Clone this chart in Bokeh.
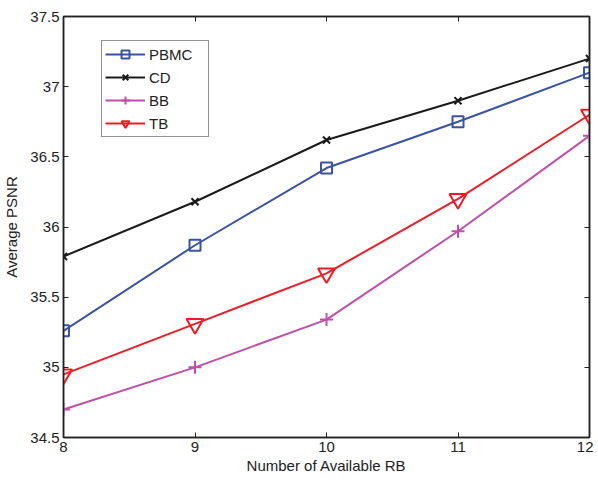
from bokeh.plotting import figure
from bokeh.models import FixedTicker, LinearAxis, Range1d, Legend, LegendItem
from bokeh.embed import file_html
from bokeh.resources import INLINE

x_rb = [8, 9, 10, 11, 12]
pbmc = [35.26, 35.87, 36.42, 36.75, 37.10]
cd = [35.79, 36.18, 36.62, 36.90, 37.20]
bb = [34.70, 35.00, 35.34, 35.97, 36.65]
tb = [34.95, 35.31, 35.67, 36.20, 36.80]

x_ticks = [8, 9, 10, 11, 12]
y_ticks = [34.5, 35, 35.5, 36, 36.5, 37, 37.5]
y_tick_labels = {34.5: "34.5", 35: "35", 35.5: "35.5", 36: "36", 36.5: "36.5", 37: "37", 37.5: "37.5"}

FONT = "Liberation Sans"
INK = "#222222"

p = figure(frame_width=526, frame_height=421, output_backend="svg", toolbar_location=None,
           x_range=Range1d(8, 12), y_range=Range1d(34.5, 37.5),
           min_border_left=55, min_border_right=4, min_border_top=16, min_border_bottom=38)
p.xgrid.visible = False
p.ygrid.visible = False
p.outline_line_color = INK
p.outline_line_width = 1.5
p.background_fill_color = "white"
p.border_fill_color = "white"

for ax in [p.xaxis[0], p.yaxis[0]]:
    ax.major_tick_in = 5
    ax.major_tick_out = 0
    ax.minor_tick_in = 0
    ax.minor_tick_out = 0
    ax.axis_line_color = INK
    ax.axis_line_width = 1.5
    ax.major_tick_line_color = INK
    ax.major_label_text_font = FONT
    ax.major_label_text_font_size = "15px"
    ax.major_label_text_color = INK
    ax.axis_label_text_font = FONT
    ax.axis_label_text_font_size = "15px"
    ax.axis_label_text_font_style = "normal"
    ax.axis_label_text_color = INK

p.xaxis[0].ticker = FixedTicker(ticks=x_ticks)
p.yaxis[0].ticker = FixedTicker(ticks=y_ticks)
p.yaxis[0].major_label_overrides = y_tick_labels
p.xaxis[0].axis_label = "Number of Available RB"
p.yaxis[0].axis_label = "Average PSNR"
p.xaxis[0].axis_label_standoff = 2
p.yaxis[0].axis_label_standoff = 7
p.xaxis[0].major_label_standoff = 4
p.yaxis[0].major_label_standoff = 4

blank_y = {t: "" for t in y_ticks}
blank_x = {t: "" for t in x_ticks}
r_axis = LinearAxis(ticker=FixedTicker(ticks=y_ticks), major_tick_in=5, major_tick_out=0,
                    minor_tick_in=0, minor_tick_out=0, major_label_overrides=blank_y,
                    major_label_standoff=0, axis_line_color=INK, axis_line_width=1.5,
                    major_tick_line_color=INK)
t_axis = LinearAxis(ticker=FixedTicker(ticks=x_ticks), major_tick_in=5, major_tick_out=0,
                    minor_tick_in=0, minor_tick_out=0, major_label_overrides=blank_x,
                    major_label_standoff=0, axis_line_color=INK, axis_line_width=1.5,
                    major_tick_line_color=INK)
p.add_layout(r_axis, "right")
p.add_layout(t_axis, "above")

c_pbmc = "#3a53a4"
c_cd = "#1a1a1a"
c_bb = "#c04fa9"
c_tb = "#ee1c25"

l1 = p.line(x_rb, pbmc, line_color=c_pbmc, line_width=2)
m1 = p.scatter(x_rb, pbmc, marker="square", size=11, fill_color=None, line_color=c_pbmc, line_width=2)
l2 = p.line(x_rb, cd, line_color=c_cd, line_width=2)
m2 = p.scatter(x_rb, cd, marker="x", size=10, line_color=c_cd, line_width=2)
l3 = p.line(x_rb, bb, line_color=c_bb, line_width=2)
m3 = p.scatter(x_rb, bb, marker="cross", size=13, line_color=c_bb, line_width=2)
l4 = p.line(x_rb, tb, line_color=c_tb, line_width=2)
m4 = p.scatter(x_rb, tb, marker="inverted_triangle", size=17, fill_color=None, line_color=c_tb, line_width=2)

legend = Legend(items=[
    LegendItem(label="PBMC", renderers=[l1, m1]),
    LegendItem(label="CD", renderers=[l2, m2]),
    LegendItem(label="BB", renderers=[l3, m3]),
    LegendItem(label="TB", renderers=[l4, m4]),
], location=(38, 300))
legend.border_line_color = INK
legend.border_line_width = 1.5
legend.label_text_font = FONT
legend.label_text_font_size = "15px"
legend.label_text_color = INK
legend.glyph_width = 40
legend.glyph_height = 20
legend.label_height = 20
legend.label_width = 56
legend.spacing = 3
legend.padding = 3
legend.margin = 0
legend.label_standoff = 4
legend.background_fill_alpha = 1
p.add_layout(legend, "center")

open("out.html", "w").write(file_html(p, INLINE))
